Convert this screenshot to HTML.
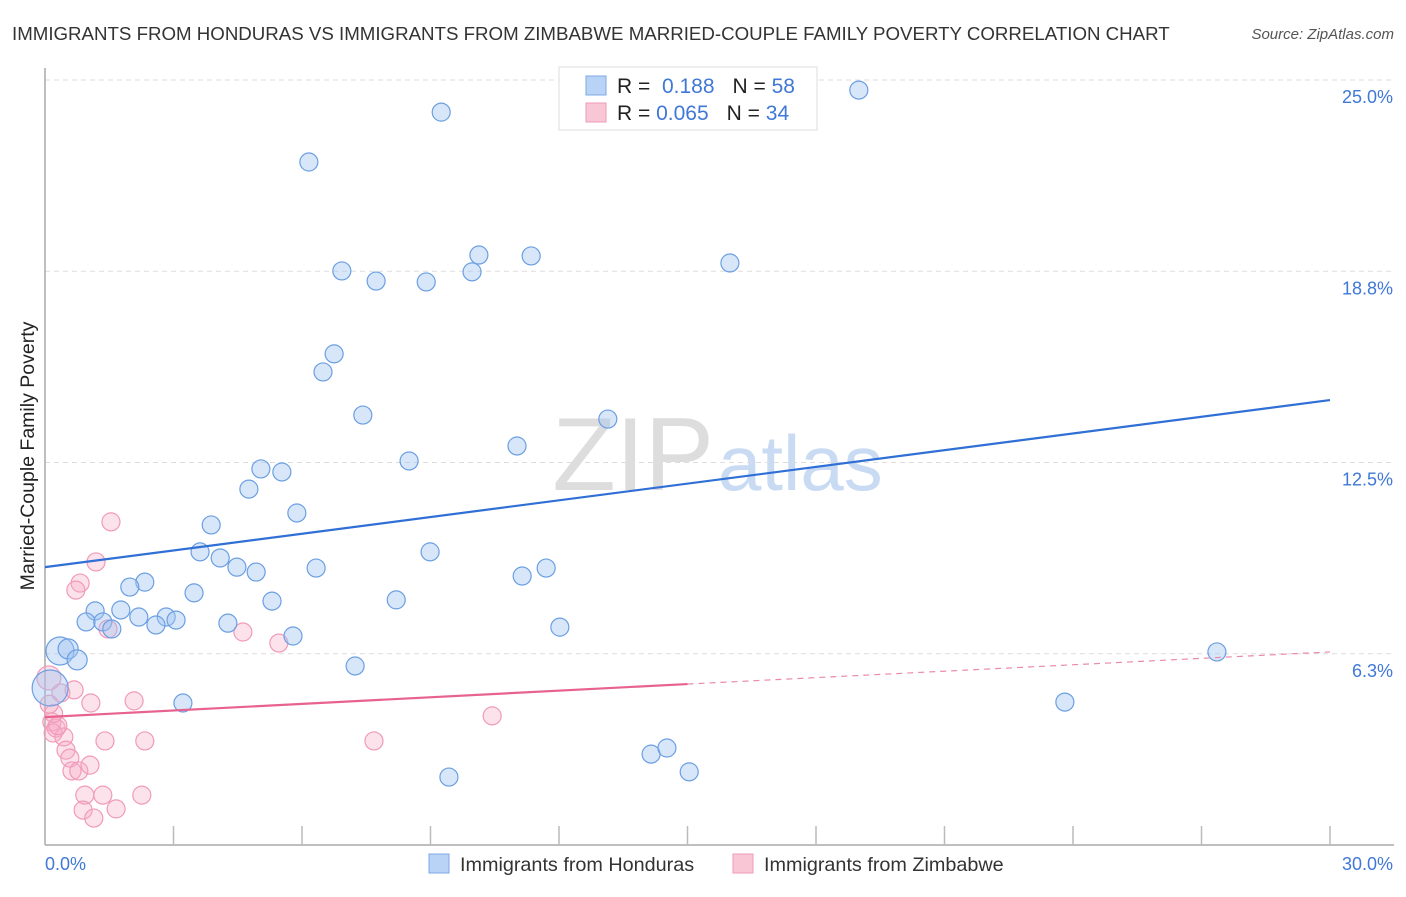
<!DOCTYPE html>
<html><head><meta charset="utf-8"><style>
body{margin:0;background:#fff;font-family:"Liberation Sans",sans-serif}
svg text{font-family:"Liberation Sans",sans-serif}
</style></head><body>
<svg id="chart" width="1406" height="892">
<text x="12" y="40" font-size="18.7" fill="#333">IMMIGRANTS FROM HONDURAS VS IMMIGRANTS FROM ZIMBABWE MARRIED-COUPLE FAMILY POVERTY CORRELATION CHART</text>
<text x="1394" y="39" font-size="15" fill="#555" text-anchor="end" font-style="italic">Source: ZipAtlas.com</text>
<text x="0" y="0" transform="translate(34,456) rotate(-90)" font-size="19.5" fill="#222" text-anchor="middle">Married-Couple Family Poverty</text>
<text x="714" y="490" font-size="104" fill="#ddd" text-anchor="end" font-family="Liberation Serif">ZIP</text>
<text x="718" y="490" font-size="78" fill="#c9dbf3">atlas</text>
<g id="grid"></g><g id="axes"></g><g id="pink"></g><g id="blue"></g><g id="lines"></g>
<g>
<rect x="559" y="67" width="258" height="63" fill="#fff" stroke="#ddd"/>
<rect x="586" y="76" width="20" height="19" fill="#b8d3f5" stroke="#7eaae6"/>
<rect x="586" y="103" width="20" height="19" fill="#f9c6d6" stroke="#ef9ab8"/>
<text x="617" y="93" font-size="21" fill="#222">R = <tspan fill="#3f78d6">&#160;0.188</tspan><tspan dx="18">N = </tspan><tspan fill="#3f78d6">58</tspan></text>
<text x="617" y="120" font-size="21" fill="#222">R = <tspan fill="#3f78d6">0.065</tspan><tspan dx="18">N = </tspan><tspan fill="#3f78d6">34</tspan></text>
</g>
<g>
<rect x="429" y="854" width="20" height="19" fill="#b8d3f5" stroke="#7eaae6"/>
<text x="460" y="871" font-size="19.8" fill="#333">Immigrants from Honduras</text>
<rect x="733" y="854" width="20" height="19" fill="#f9c6d6" stroke="#ef9ab8"/>
<text x="764" y="871" font-size="19.8" fill="#333">Immigrants from Zimbabwe</text>
</g>
</svg>
<script>
const yTicks=[6.25,12.5,18.75,25];
const yTickLabels=["6.3%","12.5%","18.8%","25.0%"];
const xTickLabels=["0.0%","30.0%"];
const blueX=[9.25,19.0,6.16,6.93,7.73,8.90,9.97,10.13,11.35,15.99,6.75,6.49,7.42,13.14,11.02,8.50,5.04,5.53,4.76,5.88,3.88,8.99,3.62,4.09,4.48,4.93,6.33,11.70,11.14,2.33,1.98,3.48,5.30,8.20,1.17,1.77,2.19,2.83,3.06,2.59,0.96,1.35,1.56,4.27,12.02,5.79,0.35,0.54,0.75,7.24,27.36,23.81,0.12,3.22,9.43,14.15,14.52,15.04];
const blueY=[23.95,24.67,22.32,18.76,18.43,18.40,18.73,19.28,19.25,19.02,16.05,15.46,14.05,13.92,13.04,12.55,12.29,12.19,11.63,10.85,10.46,9.58,9.58,9.38,9.08,8.92,9.05,9.05,8.79,8.59,8.43,8.24,7.97,8.01,7.65,7.68,7.45,7.45,7.35,7.19,7.29,7.29,7.06,7.25,7.12,6.83,6.34,6.41,6.05,5.85,6.31,4.67,5.13,4.64,2.22,2.97,3.17,2.39];
const blueSize=[9,9,9,9,9,9,9,9,9,9,9,9,9,9,9,9,9,9,9,9,9,9,9,9,9,9,9,9,9,9,9,9,9,9,9,9,9,9,9,9,9,9,9,9,9,9,14,10,10,9,9,9,18,9,9,9,9,9];
const pinkX=[1.54,1.19,0.82,0.72,1.47,4.62,5.46,0.09,0.37,0.68,1.07,2.08,10.44,0.16,0.26,0.19,0.44,0.49,0.58,0.63,0.79,1.05,1.40,2.33,7.68,0.93,1.35,2.26,0.89,1.66,1.14,0.30,0.20,0.10];
const pinkY=[10.56,9.25,8.56,8.33,7.06,6.96,6.60,5.46,4.97,5.07,4.64,4.71,4.22,4.02,3.82,3.66,3.53,3.10,2.84,2.42,2.42,2.61,3.40,3.40,3.40,1.63,1.63,1.63,1.14,1.18,0.88,3.90,4.30,4.60];
const pinkSize=[9,9,9,9,9,9,9,12,9,9,9,9,9,9,9,9,9,9,9,9,9,9,9,9,9,9,9,9,9,9,9,9,9,9];
const blueTrend=[9.08,14.54];
const pinkTrend=[4.18,5.26,6.31];
const pinkSolidEnd=15.0;
const NS="http://www.w3.org/2000/svg";
const X0=45,X1=1330,Y0=845,YPX=30.6;
function sx(v){return X0+(X1-X0)*v/30;}
function sy(v){return Y0-v*YPX;}
function mk(tag,attrs,parent){const e=document.createElementNS(NS,tag);for(const k in attrs)e.setAttribute(k,attrs[k]);parent.appendChild(e);return e;}
const grid=document.getElementById('grid'),axes=document.getElementById('axes');
yTicks.forEach((t,i)=>{
 const l=mk('line',{x1:X0,x2:1394,y1:sy(t),y2:sy(t),stroke:'#ddd','stroke-dasharray':'5,4'},grid);
 
 
 const tx=mk('text',{x:1393,y:sy(t)+23,'font-size':18,fill:'#3f78d6','text-anchor':'end'},axes);
 tx.textContent=yTickLabels[i];
 
 
});
const ya=mk('line',{x1:X0,x2:X0,y1:68,y2:Y0,stroke:'#aaa','stroke-width':1.5},axes);


const xa=mk('line',{x1:X0,x2:1394,y1:Y0,y2:Y0,stroke:'#aaa','stroke-width':1.5},axes);


for(let i=1;i<=10;i++){
 const t=mk('line',{x1:sx(i*3),x2:sx(i*3),y1:Y0-19,y2:Y0,stroke:'#bbb','stroke-width':1.5},axes);
 
 
}
const xl0=mk('text',{x:45,y:870,'font-size':18,fill:'#3f78d6'},axes);xl0.textContent=xTickLabels[0];


const xl1=mk('text',{x:1393,y:870,'font-size':18,fill:'#3f78d6','text-anchor':'end'},axes);xl1.textContent=xTickLabels[1];


const pg=document.getElementById('pink');
pinkX.forEach((v,i)=>{
 const c=mk('circle',{cx:sx(v),cy:sy(pinkY[i]),r:pinkSize[i],fill:'rgba(246,172,198,0.35)',stroke:'#f09ab9','stroke-width':1.2},pg);
 
 
});
const bg=document.getElementById('blue');
blueX.forEach((v,i)=>{
 const c=mk('circle',{cx:sx(v),cy:sy(blueY[i]),r:blueSize[i],fill:'rgba(160,196,240,0.42)',stroke:'#6b9fe2','stroke-width':1.2},bg);
 
 
});
const lg=document.getElementById('lines');
const bl=mk('line',{x1:sx(0),y1:sy(blueTrend[0]),x2:sx(30),y2:sy(blueTrend[1]),stroke:'#2f6fd6','stroke-width':2.2},lg);


const pl=mk('line',{x1:sx(0),y1:sy(pinkTrend[0]),x2:sx(pinkSolidEnd),y2:sy(pinkTrend[1]),stroke:'#e8628f','stroke-width':2.2},lg);


const pd=mk('line',{x1:sx(pinkSolidEnd),y1:sy(pinkTrend[1]),x2:sx(30),y2:sy(pinkTrend[2]),stroke:'#eb8aab','stroke-width':1.2,'stroke-dasharray':'6,5'},lg);


</script>
</body></html>
